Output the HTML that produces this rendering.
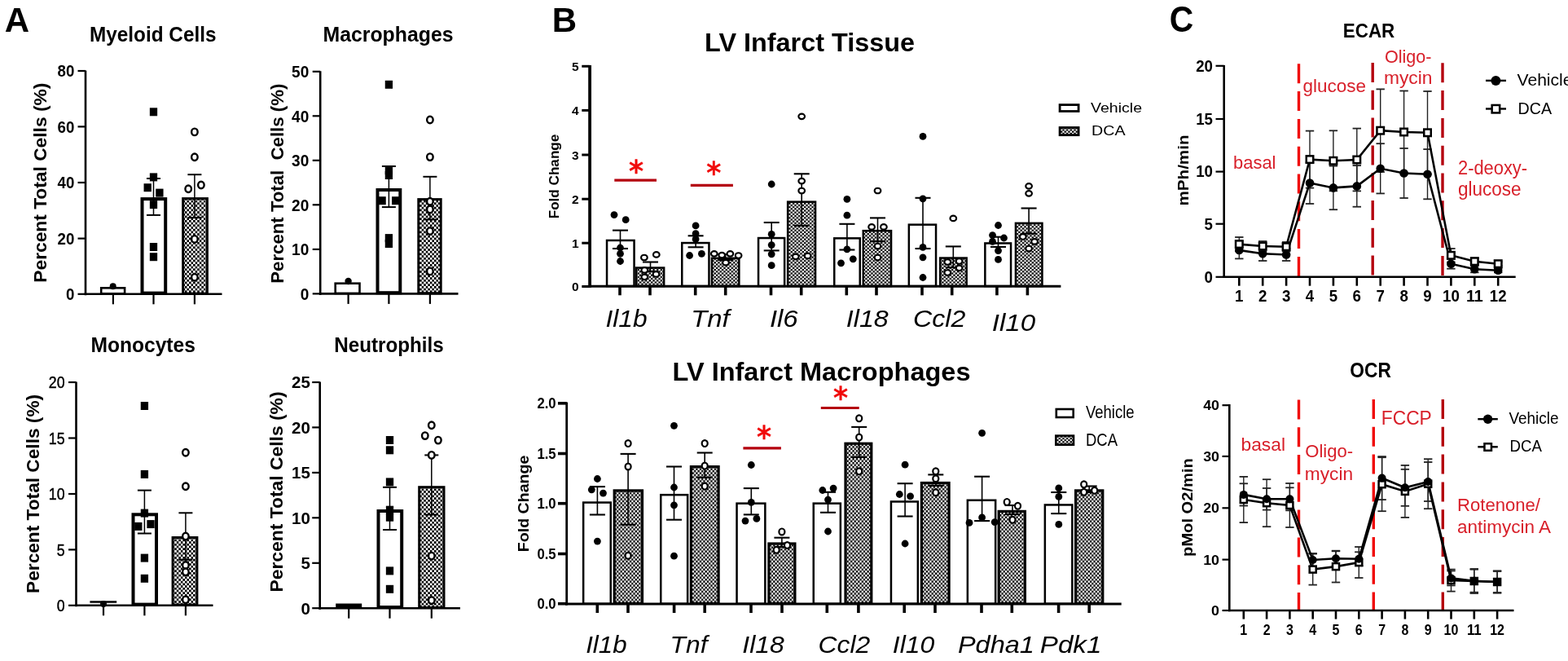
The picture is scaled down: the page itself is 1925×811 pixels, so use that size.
<!DOCTYPE html>
<html><head><meta charset="utf-8"><title>Figure</title>
<style>html,body{margin:0;padding:0;background:#fff;}svg{display:block;}
text{font-family:'Liberation Sans', Arial, sans-serif;}</style></head>
<body><svg width="1925" height="811" viewBox="0 0 1925 811">
<rect width="1925" height="811" fill="#fff"/>
<defs><pattern id="hatch" patternUnits="userSpaceOnUse" width="4.7" height="4.4"><rect width="4.7" height="4.4" fill="#000"/><rect x="0" y="0" width="2.35" height="2.2" fill="#fff"/><rect x="2.35" y="2.2" width="2.35" height="2.2" fill="#fff"/></pattern><pattern id="hatchC" patternUnits="userSpaceOnUse" width="4.52" height="4.93"><rect width="4.52" height="4.93" fill="#000"/><rect x="0" y="0" width="2.26" height="2.465" fill="#fff"/><rect x="2.26" y="2.465" width="2.26" height="2.465" fill="#fff"/></pattern><pattern id="hatchA" patternUnits="userSpaceOnUse" width="5.1" height="5.4"><rect width="5.1" height="5.4" fill="#000"/><rect x="0" y="0" width="2.55" height="2.7" fill="#fff"/><rect x="2.55" y="2.7" width="2.55" height="2.7" fill="#fff"/></pattern></defs>
<text x="5.8" y="38.8" font-size="42" font-weight="bold">A</text>
<text x="677.8" y="38.8" font-size="42" font-weight="bold">B</text>
<text x="1435.8" y="38.8" font-size="43.5" font-weight="bold" textLength="29.5" lengthAdjust="spacingAndGlyphs">C</text>
<rect x="124.2" y="353.3" width="28.9" height="7" fill="#fff" stroke="#000" stroke-width="2.6"/>
<rect x="174.5" y="244.1" width="28.7" height="115.5" fill="#fff" stroke="#000" stroke-width="4"/>
<rect x="224.7" y="243.6" width="29.7" height="116.5" fill="url(#hatchA)" stroke="#000" stroke-width="3"/>
<line x1="188.5" y1="219" x2="188.5" y2="263.9" stroke="#000" stroke-width="1.5"/>
<line x1="180" y1="219" x2="197" y2="219" stroke="#000" stroke-width="2"/>
<line x1="180" y1="263.9" x2="197" y2="263.9" stroke="#000" stroke-width="2"/>
<line x1="238.9" y1="214.2" x2="238.9" y2="267.1" stroke="#000" stroke-width="1.5"/>
<line x1="230.4" y1="214.2" x2="247.4" y2="214.2" stroke="#000" stroke-width="2"/>
<line x1="230.4" y1="267.1" x2="247.4" y2="267.1" stroke="#000" stroke-width="2"/>
<rect x="183.85" y="132.3" width="9.3" height="10"/>
<rect x="183.85" y="212.4" width="9.3" height="10"/>
<rect x="176.55" y="225.2" width="9.3" height="10"/>
<rect x="191.25" y="231.6" width="9.3" height="10"/>
<rect x="183.85" y="246.1" width="9.3" height="10"/>
<rect x="183.85" y="298" width="9.3" height="10"/>
<rect x="183.85" y="310.2" width="9.3" height="10"/>
<ellipse cx="238.9" cy="161.9" rx="3.75" ry="4.25" fill="#fff" stroke="#000" stroke-width="2.4"/>
<ellipse cx="238.9" cy="192.7" rx="3.75" ry="4.25" fill="#fff" stroke="#000" stroke-width="2.4"/>
<ellipse cx="231.2" cy="231.8" rx="3.75" ry="4.25" fill="#fff" stroke="#000" stroke-width="2.4"/>
<ellipse cx="246.9" cy="227" rx="3.75" ry="4.25" fill="#fff" stroke="#000" stroke-width="2.4"/>
<ellipse cx="238.9" cy="293.4" rx="3.75" ry="4.25" fill="#fff" stroke="#000" stroke-width="2.4"/>
<ellipse cx="238.9" cy="340.2" rx="3.75" ry="4.25" fill="#fff" stroke="#000" stroke-width="2.4"/>
<line x1="105" y1="86.5" x2="105" y2="362.3" stroke="#000" stroke-width="2.6"/>
<line x1="103.7" y1="360.8" x2="272.5" y2="360.8" stroke="#000" stroke-width="2.6"/>
<line x1="95.5" y1="360.8" x2="105" y2="360.8" stroke="#000" stroke-width="2.2"/>
<text x="91.3" y="368.18" font-size="20.5" font-weight="bold" text-anchor="end" textLength="10.4" lengthAdjust="spacingAndGlyphs">0</text>
<line x1="95.5" y1="292.6" x2="105" y2="292.6" stroke="#000" stroke-width="2.2"/>
<text x="91.3" y="299.98" font-size="20.5" font-weight="bold" text-anchor="end" textLength="20.8" lengthAdjust="spacingAndGlyphs">20</text>
<line x1="95.5" y1="224" x2="105" y2="224" stroke="#000" stroke-width="2.2"/>
<text x="91.3" y="231.38" font-size="20.5" font-weight="bold" text-anchor="end" textLength="20.8" lengthAdjust="spacingAndGlyphs">40</text>
<line x1="95.5" y1="155.4" x2="105" y2="155.4" stroke="#000" stroke-width="2.2"/>
<text x="91.3" y="162.78" font-size="20.5" font-weight="bold" text-anchor="end" textLength="20.8" lengthAdjust="spacingAndGlyphs">60</text>
<line x1="95.5" y1="87" x2="105" y2="87" stroke="#000" stroke-width="2.2"/>
<text x="91.3" y="94.38" font-size="20.5" font-weight="bold" text-anchor="end" textLength="20.8" lengthAdjust="spacingAndGlyphs">80</text>
<line x1="138.9" y1="360.8" x2="138.9" y2="373.3" stroke="#000" stroke-width="2.2"/>
<line x1="188.5" y1="360.8" x2="188.5" y2="373.3" stroke="#000" stroke-width="2.2"/>
<line x1="238.9" y1="360.8" x2="238.9" y2="373.3" stroke="#000" stroke-width="2.2"/>
<text x="110" y="51" font-size="25" font-weight="bold" textLength="155.5" lengthAdjust="spacingAndGlyphs">Myeloid Cells</text>
<text transform="translate(57.2 224.2) rotate(-90)" font-size="22" font-weight="bold" text-anchor="middle" textLength="245" lengthAdjust="spacingAndGlyphs" xml:space="preserve">Percent Total Cells (%)</text>
<circle cx="138.7" cy="351.3" r="4"/>
<rect x="411.7" y="347.7" width="29.8" height="12.2" fill="#fff" stroke="#000" stroke-width="2.6"/>
<rect x="463.5" y="233" width="27.8" height="126.2" fill="#fff" stroke="#000" stroke-width="4"/>
<rect x="513.8" y="244.6" width="27.4" height="115.1" fill="url(#hatchA)" stroke="#000" stroke-width="3"/>
<line x1="477.4" y1="204" x2="477.4" y2="254.1" stroke="#000" stroke-width="1.5"/>
<line x1="468.9" y1="204" x2="485.9" y2="204" stroke="#000" stroke-width="2"/>
<line x1="468.9" y1="254.1" x2="485.9" y2="254.1" stroke="#000" stroke-width="2"/>
<line x1="527.9" y1="216.8" x2="527.9" y2="269.4" stroke="#000" stroke-width="1.5"/>
<line x1="519.4" y1="216.8" x2="536.4" y2="216.8" stroke="#000" stroke-width="2"/>
<line x1="519.4" y1="269.4" x2="536.4" y2="269.4" stroke="#000" stroke-width="2"/>
<rect x="472.75" y="98.8" width="9.3" height="10"/>
<rect x="472.75" y="204.2" width="9.3" height="10"/>
<rect x="472.75" y="210" width="9.3" height="10"/>
<rect x="464.45" y="241.2" width="9.3" height="10"/>
<rect x="481.05" y="241.2" width="9.3" height="10"/>
<rect x="472.75" y="287.1" width="9.3" height="10"/>
<rect x="472.75" y="294" width="9.3" height="10"/>
<ellipse cx="527.9" cy="147" rx="3.75" ry="4.25" fill="#fff" stroke="#000" stroke-width="2.4"/>
<ellipse cx="527.9" cy="192.6" rx="3.75" ry="4.25" fill="#fff" stroke="#000" stroke-width="2.4"/>
<ellipse cx="527.9" cy="247.2" rx="3.75" ry="4.25" fill="#fff" stroke="#000" stroke-width="2.4"/>
<ellipse cx="527.9" cy="256.9" rx="3.75" ry="4.25" fill="#fff" stroke="#000" stroke-width="2.4"/>
<ellipse cx="527.9" cy="283.5" rx="3.75" ry="4.25" fill="#fff" stroke="#000" stroke-width="2.4"/>
<ellipse cx="527.9" cy="332.9" rx="3.75" ry="4.25" fill="#fff" stroke="#000" stroke-width="2.4"/>
<line x1="393.2" y1="87.3" x2="393.2" y2="361.9" stroke="#000" stroke-width="2.6"/>
<line x1="391.9" y1="360.4" x2="562.5" y2="360.4" stroke="#000" stroke-width="2.6"/>
<line x1="383.7" y1="360.4" x2="393.2" y2="360.4" stroke="#000" stroke-width="2.2"/>
<text x="379.3" y="367.78" font-size="20.5" font-weight="bold" text-anchor="end" textLength="10.6" lengthAdjust="spacingAndGlyphs">0</text>
<line x1="383.7" y1="305.9" x2="393.2" y2="305.9" stroke="#000" stroke-width="2.2"/>
<text x="379.3" y="313.28" font-size="20.5" font-weight="bold" text-anchor="end" textLength="21.2" lengthAdjust="spacingAndGlyphs">10</text>
<line x1="383.7" y1="251.3" x2="393.2" y2="251.3" stroke="#000" stroke-width="2.2"/>
<text x="379.3" y="258.68" font-size="20.5" font-weight="bold" text-anchor="end" textLength="21.2" lengthAdjust="spacingAndGlyphs">20</text>
<line x1="383.7" y1="196.8" x2="393.2" y2="196.8" stroke="#000" stroke-width="2.2"/>
<text x="379.3" y="204.18" font-size="20.5" font-weight="bold" text-anchor="end" textLength="21.2" lengthAdjust="spacingAndGlyphs">30</text>
<line x1="383.7" y1="142.3" x2="393.2" y2="142.3" stroke="#000" stroke-width="2.2"/>
<text x="379.3" y="149.68" font-size="20.5" font-weight="bold" text-anchor="end" textLength="21.2" lengthAdjust="spacingAndGlyphs">40</text>
<line x1="383.7" y1="87.8" x2="393.2" y2="87.8" stroke="#000" stroke-width="2.2"/>
<text x="379.3" y="95.18" font-size="20.5" font-weight="bold" text-anchor="end" textLength="21.2" lengthAdjust="spacingAndGlyphs">50</text>
<line x1="427.6" y1="360.4" x2="427.6" y2="372.9" stroke="#000" stroke-width="2.2"/>
<line x1="477.4" y1="360.4" x2="477.4" y2="372.9" stroke="#000" stroke-width="2.2"/>
<line x1="527.9" y1="360.4" x2="527.9" y2="372.9" stroke="#000" stroke-width="2.2"/>
<text x="396.5" y="51" font-size="25" font-weight="bold" textLength="160" lengthAdjust="spacingAndGlyphs">Macrophages</text>
<text transform="translate(348 225.2) rotate(-90)" font-size="22" font-weight="bold" text-anchor="middle" textLength="245" lengthAdjust="spacingAndGlyphs" xml:space="preserve">Percent Total  Cells (%)</text>
<circle cx="427.6" cy="345" r="4.2"/>
<rect x="163.5" y="631.3" width="28.5" height="110.3" fill="#fff" stroke="#000" stroke-width="4"/>
<rect x="212.1" y="659.5" width="29.8" height="82.6" fill="url(#hatchA)" stroke="#000" stroke-width="3"/>
<line x1="177.4" y1="601.6" x2="177.4" y2="654.5" stroke="#000" stroke-width="1.5"/>
<line x1="168.9" y1="601.6" x2="185.9" y2="601.6" stroke="#000" stroke-width="2"/>
<line x1="168.9" y1="654.5" x2="185.9" y2="654.5" stroke="#000" stroke-width="2"/>
<line x1="227.9" y1="629.3" x2="227.9" y2="686.7" stroke="#000" stroke-width="1.5"/>
<line x1="219.4" y1="629.3" x2="236.4" y2="629.3" stroke="#000" stroke-width="2"/>
<line x1="219.4" y1="686.7" x2="236.4" y2="686.7" stroke="#000" stroke-width="2"/>
<rect x="172.75" y="493" width="9.3" height="10"/>
<rect x="172.75" y="576.9" width="9.3" height="10"/>
<rect x="172.75" y="624.6" width="9.3" height="10"/>
<rect x="165.15" y="640.9" width="9.3" height="10"/>
<rect x="180.35" y="638.1" width="9.3" height="10"/>
<rect x="172.75" y="679.6" width="9.3" height="10"/>
<rect x="172.75" y="704.8" width="9.3" height="10"/>
<ellipse cx="227.9" cy="555.3" rx="3.75" ry="4.25" fill="#fff" stroke="#000" stroke-width="2.4"/>
<ellipse cx="227.9" cy="596.8" rx="3.75" ry="4.25" fill="#fff" stroke="#000" stroke-width="2.4"/>
<ellipse cx="227.9" cy="658" rx="3.75" ry="4.25" fill="#fff" stroke="#000" stroke-width="2.4"/>
<ellipse cx="227.9" cy="693.5" rx="3.75" ry="4.25" fill="#fff" stroke="#000" stroke-width="2.4"/>
<ellipse cx="227.9" cy="701.8" rx="3.75" ry="4.25" fill="#fff" stroke="#000" stroke-width="2.4"/>
<ellipse cx="227.9" cy="735.7" rx="3.75" ry="4.25" fill="#fff" stroke="#000" stroke-width="2.4"/>
<line x1="93.5" y1="468.5" x2="93.5" y2="744.3" stroke="#000" stroke-width="2.6"/>
<line x1="92.2" y1="742.8" x2="261.5" y2="742.8" stroke="#000" stroke-width="2.6"/>
<line x1="84" y1="742.8" x2="93.5" y2="742.8" stroke="#000" stroke-width="2.2"/>
<text x="79.5" y="750" font-size="20" text-anchor="end" textLength="9.85" lengthAdjust="spacingAndGlyphs" stroke="#000" stroke-width="0.45">0</text>
<line x1="84" y1="674.4" x2="93.5" y2="674.4" stroke="#000" stroke-width="2.2"/>
<text x="79.5" y="681.6" font-size="20" text-anchor="end" textLength="9.85" lengthAdjust="spacingAndGlyphs" stroke="#000" stroke-width="0.45">5</text>
<line x1="84" y1="606" x2="93.5" y2="606" stroke="#000" stroke-width="2.2"/>
<text x="79.5" y="613.2" font-size="20" text-anchor="end" textLength="19.7" lengthAdjust="spacingAndGlyphs" stroke="#000" stroke-width="0.45">10</text>
<line x1="84" y1="537.5" x2="93.5" y2="537.5" stroke="#000" stroke-width="2.2"/>
<text x="79.5" y="544.7" font-size="20" text-anchor="end" textLength="19.7" lengthAdjust="spacingAndGlyphs" stroke="#000" stroke-width="0.45">15</text>
<line x1="84" y1="469" x2="93.5" y2="469" stroke="#000" stroke-width="2.2"/>
<text x="79.5" y="476.2" font-size="20" text-anchor="end" textLength="19.7" lengthAdjust="spacingAndGlyphs" stroke="#000" stroke-width="0.45">20</text>
<line x1="127" y1="742.8" x2="127" y2="755.3" stroke="#000" stroke-width="2.2"/>
<line x1="177.4" y1="742.8" x2="177.4" y2="755.3" stroke="#000" stroke-width="2.2"/>
<line x1="227.9" y1="742.8" x2="227.9" y2="755.3" stroke="#000" stroke-width="2.2"/>
<text x="111.4" y="432.3" font-size="25" font-weight="bold" textLength="128.5" lengthAdjust="spacingAndGlyphs">Monocytes</text>
<text transform="translate(48.3 605.9) rotate(-90)" font-size="22" font-weight="bold" text-anchor="middle" textLength="244" lengthAdjust="spacingAndGlyphs" xml:space="preserve">Percent Total Cells (%)</text>
<line x1="110.4" y1="738.5" x2="143.2" y2="738.5" stroke="#000" stroke-width="2.5"/>
<circle cx="127" cy="740.9" r="4"/>
<rect x="464.5" y="627" width="28.7" height="118" fill="#fff" stroke="#000" stroke-width="4"/>
<rect x="514.7" y="597.7" width="30.3" height="147.8" fill="url(#hatchA)" stroke="#000" stroke-width="3"/>
<line x1="478.5" y1="597.8" x2="478.5" y2="650" stroke="#000" stroke-width="1.5"/>
<line x1="470" y1="597.8" x2="487" y2="597.8" stroke="#000" stroke-width="2"/>
<line x1="470" y1="650" x2="487" y2="650" stroke="#000" stroke-width="2"/>
<line x1="529.8" y1="558.4" x2="529.8" y2="631.5" stroke="#000" stroke-width="1.5"/>
<line x1="521.3" y1="558.4" x2="538.3" y2="558.4" stroke="#000" stroke-width="2"/>
<line x1="521.3" y1="631.5" x2="538.3" y2="631.5" stroke="#000" stroke-width="2"/>
<rect x="473.85" y="535" width="9.3" height="10"/>
<rect x="473.85" y="547.3" width="9.3" height="10"/>
<rect x="473.85" y="586.4" width="9.3" height="10"/>
<rect x="473.85" y="620.7" width="9.3" height="10"/>
<rect x="473.85" y="629.7" width="9.3" height="10"/>
<rect x="473.85" y="695.4" width="9.3" height="10"/>
<rect x="473.85" y="717.8" width="9.3" height="10"/>
<ellipse cx="529.8" cy="521.8" rx="3.75" ry="4.25" fill="#fff" stroke="#000" stroke-width="2.4"/>
<ellipse cx="521.8" cy="534.6" rx="3.75" ry="4.25" fill="#fff" stroke="#000" stroke-width="2.4"/>
<ellipse cx="537.9" cy="540.1" rx="3.75" ry="4.25" fill="#fff" stroke="#000" stroke-width="2.4"/>
<ellipse cx="529.8" cy="558.4" rx="3.75" ry="4.25" fill="#fff" stroke="#000" stroke-width="2.4"/>
<ellipse cx="529.8" cy="682.1" rx="3.75" ry="4.25" fill="#fff" stroke="#000" stroke-width="2.4"/>
<ellipse cx="529.8" cy="736.6" rx="3.75" ry="4.25" fill="#fff" stroke="#000" stroke-width="2.4"/>
<line x1="392.7" y1="468.5" x2="392.7" y2="747.7" stroke="#000" stroke-width="2.6"/>
<line x1="391.4" y1="746.2" x2="565" y2="746.2" stroke="#000" stroke-width="2.6"/>
<line x1="383.2" y1="746.2" x2="392.7" y2="746.2" stroke="#000" stroke-width="2.2"/>
<text x="380.9" y="753.58" font-size="20.5" font-weight="bold" text-anchor="end">0</text>
<line x1="383.2" y1="690.8" x2="392.7" y2="690.8" stroke="#000" stroke-width="2.2"/>
<text x="380.9" y="698.18" font-size="20.5" font-weight="bold" text-anchor="end">5</text>
<line x1="383.2" y1="635.3" x2="392.7" y2="635.3" stroke="#000" stroke-width="2.2"/>
<text x="380.9" y="642.68" font-size="20.5" font-weight="bold" text-anchor="end">10</text>
<line x1="383.2" y1="579.9" x2="392.7" y2="579.9" stroke="#000" stroke-width="2.2"/>
<text x="380.9" y="587.28" font-size="20.5" font-weight="bold" text-anchor="end">15</text>
<line x1="383.2" y1="524.4" x2="392.7" y2="524.4" stroke="#000" stroke-width="2.2"/>
<text x="380.9" y="531.78" font-size="20.5" font-weight="bold" text-anchor="end">20</text>
<line x1="383.2" y1="469" x2="392.7" y2="469" stroke="#000" stroke-width="2.2"/>
<text x="380.9" y="476.38" font-size="20.5" font-weight="bold" text-anchor="end">25</text>
<line x1="428.2" y1="746.2" x2="428.2" y2="758.7" stroke="#000" stroke-width="2.2"/>
<line x1="478.5" y1="746.2" x2="478.5" y2="758.7" stroke="#000" stroke-width="2.2"/>
<line x1="529.8" y1="746.2" x2="529.8" y2="758.7" stroke="#000" stroke-width="2.2"/>
<text x="410.3" y="432.3" font-size="25" font-weight="bold" textLength="134.5" lengthAdjust="spacingAndGlyphs">Neutrophils</text>
<text transform="translate(346.5 603.5) rotate(-90)" font-size="22" font-weight="bold" text-anchor="middle" textLength="246" lengthAdjust="spacingAndGlyphs" xml:space="preserve">Percent Total Cells (%)</text>
<rect x="412.2" y="740.5" width="32" height="5.5" fill="#000"/>
<rect x="745.05" y="294.95" width="33.5" height="56.1" fill="#fff" stroke="#000" stroke-width="2.5"/>
<rect x="781.05" y="328.55" width="34.1" height="22.5" fill="url(#hatch)" stroke="#000" stroke-width="2.5"/>
<rect x="837.25" y="298.05" width="33.2" height="53" fill="#fff" stroke="#000" stroke-width="2.5"/>
<rect x="873.95" y="316.75" width="33.4" height="34.3" fill="url(#hatch)" stroke="#000" stroke-width="2.5"/>
<rect x="931.05" y="292.05" width="32.1" height="59" fill="#fff" stroke="#000" stroke-width="2.5"/>
<rect x="967.15" y="247.65" width="33.9" height="103.4" fill="url(#hatch)" stroke="#000" stroke-width="2.5"/>
<rect x="1024.25" y="292.35" width="31.5" height="58.7" fill="#fff" stroke="#000" stroke-width="2.5"/>
<rect x="1059.75" y="283.15" width="34.3" height="67.9" fill="url(#hatch)" stroke="#000" stroke-width="2.5"/>
<rect x="1115.85" y="275.65" width="33.2" height="75.4" fill="#fff" stroke="#000" stroke-width="2.5"/>
<rect x="1154.25" y="316.55" width="32.4" height="34.5" fill="url(#hatch)" stroke="#000" stroke-width="2.5"/>
<rect x="1209.35" y="298.45" width="31.7" height="52.6" fill="#fff" stroke="#000" stroke-width="2.5"/>
<rect x="1246.95" y="273.85" width="32.5" height="77.2" fill="url(#hatch)" stroke="#000" stroke-width="2.5"/>
<line x1="761.5" y1="282.6" x2="761.5" y2="305" stroke="#000" stroke-width="1.6"/>
<line x1="752" y1="282.6" x2="771" y2="282.6" stroke="#000" stroke-width="2.1"/>
<line x1="752" y1="305" x2="771" y2="305" stroke="#000" stroke-width="2.1"/>
<line x1="798.5" y1="321.5" x2="798.5" y2="333" stroke="#000" stroke-width="1.6"/>
<line x1="789" y1="321.5" x2="808" y2="321.5" stroke="#000" stroke-width="2.1"/>
<line x1="789" y1="333" x2="808" y2="333" stroke="#000" stroke-width="2.1"/>
<line x1="854.1" y1="289.3" x2="854.1" y2="303.3" stroke="#000" stroke-width="1.6"/>
<line x1="844.6" y1="289.3" x2="863.6" y2="289.3" stroke="#000" stroke-width="2.1"/>
<line x1="844.6" y1="303.3" x2="863.6" y2="303.3" stroke="#000" stroke-width="2.1"/>
<line x1="890.7" y1="312" x2="890.7" y2="319" stroke="#000" stroke-width="1.6"/>
<line x1="881.2" y1="312" x2="900.2" y2="312" stroke="#000" stroke-width="2.1"/>
<line x1="881.2" y1="319" x2="900.2" y2="319" stroke="#000" stroke-width="2.1"/>
<line x1="947.2" y1="273" x2="947.2" y2="307.4" stroke="#000" stroke-width="1.6"/>
<line x1="937.7" y1="273" x2="956.7" y2="273" stroke="#000" stroke-width="2.1"/>
<line x1="937.7" y1="307.4" x2="956.7" y2="307.4" stroke="#000" stroke-width="2.1"/>
<line x1="984.2" y1="213.3" x2="984.2" y2="276.9" stroke="#000" stroke-width="1.6"/>
<line x1="974.7" y1="213.3" x2="993.7" y2="213.3" stroke="#000" stroke-width="2.1"/>
<line x1="974.7" y1="276.9" x2="993.7" y2="276.9" stroke="#000" stroke-width="2.1"/>
<line x1="1039.9" y1="274.8" x2="1039.9" y2="306.5" stroke="#000" stroke-width="1.6"/>
<line x1="1030.4" y1="274.8" x2="1049.4" y2="274.8" stroke="#000" stroke-width="2.1"/>
<line x1="1030.4" y1="306.5" x2="1049.4" y2="306.5" stroke="#000" stroke-width="2.1"/>
<line x1="1077.5" y1="267.4" x2="1077.5" y2="296.1" stroke="#000" stroke-width="1.6"/>
<line x1="1068" y1="267.4" x2="1087" y2="267.4" stroke="#000" stroke-width="2.1"/>
<line x1="1068" y1="296.1" x2="1087" y2="296.1" stroke="#000" stroke-width="2.1"/>
<line x1="1133" y1="242.8" x2="1133" y2="305" stroke="#000" stroke-width="1.6"/>
<line x1="1123.5" y1="242.8" x2="1142.5" y2="242.8" stroke="#000" stroke-width="2.1"/>
<line x1="1123.5" y1="305" x2="1142.5" y2="305" stroke="#000" stroke-width="2.1"/>
<line x1="1170.3" y1="302.4" x2="1170.3" y2="328.2" stroke="#000" stroke-width="1.6"/>
<line x1="1160.8" y1="302.4" x2="1179.8" y2="302.4" stroke="#000" stroke-width="2.1"/>
<line x1="1160.8" y1="328.2" x2="1179.8" y2="328.2" stroke="#000" stroke-width="2.1"/>
<line x1="1225.5" y1="290.7" x2="1225.5" y2="302.9" stroke="#000" stroke-width="1.6"/>
<line x1="1216" y1="290.7" x2="1235" y2="290.7" stroke="#000" stroke-width="2.1"/>
<line x1="1216" y1="302.9" x2="1235" y2="302.9" stroke="#000" stroke-width="2.1"/>
<line x1="1263.1" y1="255.5" x2="1263.1" y2="286.6" stroke="#000" stroke-width="1.6"/>
<line x1="1253.6" y1="255.5" x2="1272.6" y2="255.5" stroke="#000" stroke-width="2.1"/>
<line x1="1253.6" y1="286.6" x2="1272.6" y2="286.6" stroke="#000" stroke-width="2.1"/>
<circle cx="754" cy="263.6" r="4.4"/>
<circle cx="768.2" cy="269.7" r="4.4"/>
<circle cx="761.5" cy="304" r="4.4"/>
<circle cx="761.5" cy="311.3" r="4.4"/>
<circle cx="761.5" cy="320.5" r="4.4"/>
<circle cx="854.1" cy="276.9" r="4.4"/>
<circle cx="854.1" cy="286.6" r="4.4"/>
<circle cx="854.1" cy="293.4" r="4.4"/>
<circle cx="846.6" cy="313.5" r="4.4"/>
<circle cx="861.4" cy="311.3" r="4.4"/>
<circle cx="947.2" cy="226" r="4.4"/>
<circle cx="947.2" cy="287.3" r="4.4"/>
<circle cx="947.2" cy="300.6" r="4.4"/>
<circle cx="947.2" cy="311.8" r="4.4"/>
<circle cx="947.2" cy="325.7" r="4.4"/>
<circle cx="1039.9" cy="244.3" r="4.4"/>
<circle cx="1039.9" cy="264.2" r="4.4"/>
<circle cx="1039.9" cy="305.9" r="4.4"/>
<circle cx="1032.5" cy="322.8" r="4.4"/>
<circle cx="1047.3" cy="317.8" r="4.4"/>
<circle cx="1133" cy="167.4" r="4.4"/>
<circle cx="1133" cy="243.8" r="4.4"/>
<circle cx="1133" cy="303.4" r="4.4"/>
<circle cx="1133" cy="315.8" r="4.4"/>
<circle cx="1133" cy="340.5" r="4.4"/>
<circle cx="1225.5" cy="276.5" r="4.4"/>
<circle cx="1218.5" cy="288.6" r="4.4"/>
<circle cx="1232.5" cy="292" r="4.4"/>
<circle cx="1218.5" cy="296.4" r="4.4"/>
<circle cx="1225.5" cy="307.6" r="4.4"/>
<circle cx="1225.5" cy="318.4" r="4.4"/>
<ellipse cx="790.9" cy="316" rx="3.8" ry="3.25" fill="#fff" stroke="#000" stroke-width="2.2"/>
<ellipse cx="805.8" cy="312.4" rx="3.8" ry="3.25" fill="#fff" stroke="#000" stroke-width="2.2"/>
<ellipse cx="791.3" cy="331.4" rx="3.8" ry="3.25" fill="#fff" stroke="#000" stroke-width="2.2"/>
<ellipse cx="805.5" cy="336.4" rx="3.8" ry="3.25" fill="#fff" stroke="#000" stroke-width="2.2"/>
<ellipse cx="791.3" cy="339.8" rx="3.8" ry="3.25" fill="#fff" stroke="#000" stroke-width="2.2"/>
<ellipse cx="876.8" cy="311.3" rx="3.8" ry="3.25" fill="#fff" stroke="#000" stroke-width="2.2"/>
<ellipse cx="886.2" cy="313.1" rx="3.8" ry="3.25" fill="#fff" stroke="#000" stroke-width="2.2"/>
<ellipse cx="896.4" cy="311.3" rx="3.8" ry="3.25" fill="#fff" stroke="#000" stroke-width="2.2"/>
<ellipse cx="906.6" cy="313.5" rx="3.8" ry="3.25" fill="#fff" stroke="#000" stroke-width="2.2"/>
<ellipse cx="891" cy="322.2" rx="3.8" ry="3.25" fill="#fff" stroke="#000" stroke-width="2.2"/>
<ellipse cx="984.2" cy="142.8" rx="3.8" ry="3.25" fill="#fff" stroke="#000" stroke-width="2.2"/>
<ellipse cx="984.2" cy="222.1" rx="3.8" ry="3.25" fill="#fff" stroke="#000" stroke-width="2.2"/>
<ellipse cx="984.2" cy="234" rx="3.8" ry="3.25" fill="#fff" stroke="#000" stroke-width="2.2"/>
<ellipse cx="976.8" cy="314.8" rx="3.8" ry="3.25" fill="#fff" stroke="#000" stroke-width="2.2"/>
<ellipse cx="991.6" cy="313.9" rx="3.8" ry="3.25" fill="#fff" stroke="#000" stroke-width="2.2"/>
<ellipse cx="1077.5" cy="234" rx="3.8" ry="3.25" fill="#fff" stroke="#000" stroke-width="2.2"/>
<ellipse cx="1070.1" cy="278.4" rx="3.8" ry="3.25" fill="#fff" stroke="#000" stroke-width="2.2"/>
<ellipse cx="1084.9" cy="278.4" rx="3.8" ry="3.25" fill="#fff" stroke="#000" stroke-width="2.2"/>
<ellipse cx="1077.5" cy="302" rx="3.8" ry="3.25" fill="#fff" stroke="#000" stroke-width="2.2"/>
<ellipse cx="1077.5" cy="316" rx="3.8" ry="3.25" fill="#fff" stroke="#000" stroke-width="2.2"/>
<ellipse cx="1170.3" cy="267.9" rx="3.8" ry="3.25" fill="#fff" stroke="#000" stroke-width="2.2"/>
<ellipse cx="1163.3" cy="321.5" rx="3.8" ry="3.25" fill="#fff" stroke="#000" stroke-width="2.2"/>
<ellipse cx="1177.6" cy="320.5" rx="3.8" ry="3.25" fill="#fff" stroke="#000" stroke-width="2.2"/>
<ellipse cx="1177.6" cy="328.8" rx="3.8" ry="3.25" fill="#fff" stroke="#000" stroke-width="2.2"/>
<ellipse cx="1163.3" cy="334.5" rx="3.8" ry="3.25" fill="#fff" stroke="#000" stroke-width="2.2"/>
<ellipse cx="1263.1" cy="228.3" rx="3.8" ry="3.25" fill="#fff" stroke="#000" stroke-width="2.2"/>
<ellipse cx="1263.1" cy="237.3" rx="3.8" ry="3.25" fill="#fff" stroke="#000" stroke-width="2.2"/>
<ellipse cx="1255.8" cy="290.5" rx="3.8" ry="3.25" fill="#fff" stroke="#000" stroke-width="2.2"/>
<ellipse cx="1270.1" cy="296.4" rx="3.8" ry="3.25" fill="#fff" stroke="#000" stroke-width="2.2"/>
<ellipse cx="1263.1" cy="305" rx="3.8" ry="3.25" fill="#fff" stroke="#000" stroke-width="2.2"/>
<line x1="724.1" y1="80" x2="724.1" y2="352.8" stroke="#000" stroke-width="3.8"/>
<line x1="722.6" y1="351.3" x2="1302.4" y2="351.3" stroke="#000" stroke-width="3"/>
<line x1="714.3" y1="351.5" x2="724.1" y2="351.5" stroke="#000" stroke-width="3"/>
<text x="710.6" y="357" font-size="15.5" font-weight="bold" text-anchor="end">0</text>
<line x1="714.3" y1="298.2" x2="724.1" y2="298.2" stroke="#000" stroke-width="3"/>
<text x="710.6" y="303.7" font-size="15.5" font-weight="bold" text-anchor="end">1</text>
<line x1="714.3" y1="244.2" x2="724.1" y2="244.2" stroke="#000" stroke-width="3"/>
<text x="710.6" y="249.7" font-size="15.5" font-weight="bold" text-anchor="end">2</text>
<line x1="714.3" y1="190" x2="724.1" y2="190" stroke="#000" stroke-width="3"/>
<text x="710.6" y="195.5" font-size="15.5" font-weight="bold" text-anchor="end">3</text>
<line x1="714.3" y1="135.4" x2="724.1" y2="135.4" stroke="#000" stroke-width="3"/>
<text x="710.6" y="140.9" font-size="15.5" font-weight="bold" text-anchor="end">4</text>
<line x1="714.3" y1="81.3" x2="724.1" y2="81.3" stroke="#000" stroke-width="3"/>
<text x="710.6" y="86.8" font-size="15.5" font-weight="bold" text-anchor="end">5</text>
<line x1="761" y1="351.3" x2="761" y2="362.3" stroke="#000" stroke-width="3.6"/>
<line x1="798" y1="351.3" x2="798" y2="362.3" stroke="#000" stroke-width="3.6"/>
<line x1="853.7" y1="351.3" x2="853.7" y2="362.3" stroke="#000" stroke-width="3.6"/>
<line x1="890.7" y1="351.3" x2="890.7" y2="362.3" stroke="#000" stroke-width="3.6"/>
<line x1="946.5" y1="351.3" x2="946.5" y2="362.3" stroke="#000" stroke-width="3.6"/>
<line x1="983.7" y1="351.3" x2="983.7" y2="362.3" stroke="#000" stroke-width="3.6"/>
<line x1="1039.3" y1="351.3" x2="1039.3" y2="362.3" stroke="#000" stroke-width="3.6"/>
<line x1="1076" y1="351.3" x2="1076" y2="362.3" stroke="#000" stroke-width="3.6"/>
<line x1="1132" y1="351.3" x2="1132" y2="362.3" stroke="#000" stroke-width="3.6"/>
<line x1="1168.7" y1="351.3" x2="1168.7" y2="362.3" stroke="#000" stroke-width="3.6"/>
<line x1="1223.9" y1="351.3" x2="1223.9" y2="362.3" stroke="#000" stroke-width="3.6"/>
<line x1="1261.4" y1="351.3" x2="1261.4" y2="362.3" stroke="#000" stroke-width="3.6"/>
<line x1="754.3" y1="221.2" x2="806" y2="221.2" stroke="#b4000e" stroke-width="3.2"/>
<line x1="847.8" y1="227.3" x2="899.9" y2="227.3" stroke="#b4000e" stroke-width="3.2"/>
<text x="780.9" y="212.54" font-size="28" text-anchor="middle" fill="#f00a0a" stroke="#f00a0a" stroke-width="0.6" stroke-linejoin="round" style="font-family:'DejaVu Sans', sans-serif">&#x2217;</text>
<text x="876.2" y="215.34" font-size="28" text-anchor="middle" fill="#f00a0a" stroke="#f00a0a" stroke-width="0.6" stroke-linejoin="round" style="font-family:'DejaVu Sans', sans-serif">&#x2217;</text>
<text x="743.5" y="401.4" font-size="29.5" font-style="italic" textLength="51.1" lengthAdjust="spacingAndGlyphs">Il1b</text>
<text x="848.2" y="401.4" font-size="29.5" font-style="italic" textLength="47.5" lengthAdjust="spacingAndGlyphs">Tnf</text>
<text x="944.9" y="401.4" font-size="29.5" font-style="italic" textLength="34.7" lengthAdjust="spacingAndGlyphs">Il6</text>
<text x="1038.8" y="401.4" font-size="29.5" font-style="italic" textLength="51.9" lengthAdjust="spacingAndGlyphs">Il18</text>
<text x="1121.1" y="401.4" font-size="29.5" font-style="italic" textLength="64.2" lengthAdjust="spacingAndGlyphs">Ccl2</text>
<text x="1217.7" y="406.4" font-size="29.5" font-style="italic" textLength="53.4" lengthAdjust="spacingAndGlyphs">Il10</text>
<text transform="translate(685.6 216.5) rotate(-90)" font-size="16" font-weight="bold" text-anchor="middle" textLength="103.6" lengthAdjust="spacingAndGlyphs">Fold Change</text>
<text x="865" y="62.7" font-size="31" font-weight="bold" textLength="258" lengthAdjust="spacingAndGlyphs">LV Infarct Tissue</text>
<rect x="1301.1" y="128.6" width="23" height="7.9" fill="#fff" stroke="#000" stroke-width="2.8"/>
<rect x="1301.1" y="156.5" width="23" height="9.2" fill="url(#hatch)" stroke="#000" stroke-width="2.8"/>
<text x="1339" y="137.7" font-size="17" textLength="63" lengthAdjust="spacingAndGlyphs">Vehicle</text>
<text x="1340" y="166" font-size="17" textLength="41.5" lengthAdjust="spacingAndGlyphs">DCA</text>
<rect x="716.15" y="616.55" width="33.6" height="124.2" fill="#fff" stroke="#000" stroke-width="2.5"/>
<rect x="754.2" y="601.9" width="34.3" height="138.5" fill="url(#hatchC)" stroke="#000" stroke-width="3.2"/>
<rect x="811.25" y="607.15" width="32.9" height="133.6" fill="#fff" stroke="#000" stroke-width="2.5"/>
<rect x="848.4" y="572.6" width="33.7" height="167.8" fill="url(#hatchC)" stroke="#000" stroke-width="3.2"/>
<rect x="904.55" y="617.65" width="34.8" height="123.1" fill="#fff" stroke="#000" stroke-width="2.5"/>
<rect x="943.9" y="667" width="32" height="73.4" fill="url(#hatchC)" stroke="#000" stroke-width="3.2"/>
<rect x="998.75" y="617.65" width="33.1" height="123.1" fill="#fff" stroke="#000" stroke-width="2.5"/>
<rect x="1038" y="544.2" width="31.8" height="196.2" fill="url(#hatchC)" stroke="#000" stroke-width="3.2"/>
<rect x="1093.95" y="615.45" width="32.9" height="125.3" fill="#fff" stroke="#000" stroke-width="2.5"/>
<rect x="1131.4" y="592.5" width="33.7" height="147.9" fill="url(#hatchC)" stroke="#000" stroke-width="3.2"/>
<rect x="1187.85" y="613.75" width="34.3" height="127" fill="#fff" stroke="#000" stroke-width="2.5"/>
<rect x="1226.2" y="627.4" width="32.2" height="113" fill="url(#hatchC)" stroke="#000" stroke-width="3.2"/>
<rect x="1282.85" y="619.45" width="33.5" height="121.3" fill="#fff" stroke="#000" stroke-width="2.5"/>
<rect x="1320.6" y="601.9" width="33.2" height="138.5" fill="url(#hatchC)" stroke="#000" stroke-width="3.2"/>
<line x1="733.4" y1="597.1" x2="733.4" y2="631.5" stroke="#000" stroke-width="1.6"/>
<line x1="723.9" y1="597.1" x2="742.9" y2="597.1" stroke="#000" stroke-width="2.1"/>
<line x1="723.9" y1="631.5" x2="742.9" y2="631.5" stroke="#000" stroke-width="2.1"/>
<line x1="771.1" y1="556.9" x2="771.1" y2="643.7" stroke="#000" stroke-width="1.6"/>
<line x1="761.6" y1="556.9" x2="780.6" y2="556.9" stroke="#000" stroke-width="2.1"/>
<line x1="761.6" y1="643.7" x2="780.6" y2="643.7" stroke="#000" stroke-width="2.1"/>
<line x1="827.5" y1="572.5" x2="827.5" y2="637.7" stroke="#000" stroke-width="1.6"/>
<line x1="818" y1="572.5" x2="837" y2="572.5" stroke="#000" stroke-width="2.1"/>
<line x1="818" y1="637.7" x2="837" y2="637.7" stroke="#000" stroke-width="2.1"/>
<line x1="865.2" y1="555.5" x2="865.2" y2="585.8" stroke="#000" stroke-width="1.6"/>
<line x1="855.7" y1="555.5" x2="874.7" y2="555.5" stroke="#000" stroke-width="2.1"/>
<line x1="855.7" y1="585.8" x2="874.7" y2="585.8" stroke="#000" stroke-width="2.1"/>
<line x1="922.3" y1="599.1" x2="922.3" y2="631.4" stroke="#000" stroke-width="1.6"/>
<line x1="912.8" y1="599.1" x2="931.8" y2="599.1" stroke="#000" stroke-width="2.1"/>
<line x1="912.8" y1="631.4" x2="931.8" y2="631.4" stroke="#000" stroke-width="2.1"/>
<line x1="959.9" y1="659.7" x2="959.9" y2="671" stroke="#000" stroke-width="1.6"/>
<line x1="950.4" y1="659.7" x2="969.4" y2="659.7" stroke="#000" stroke-width="2.1"/>
<line x1="950.4" y1="671" x2="969.4" y2="671" stroke="#000" stroke-width="2.1"/>
<line x1="1016.5" y1="603.8" x2="1016.5" y2="628.8" stroke="#000" stroke-width="1.6"/>
<line x1="1007" y1="603.8" x2="1026" y2="603.8" stroke="#000" stroke-width="2.1"/>
<line x1="1007" y1="628.8" x2="1026" y2="628.8" stroke="#000" stroke-width="2.1"/>
<line x1="1054.7" y1="523.9" x2="1054.7" y2="560.9" stroke="#000" stroke-width="1.6"/>
<line x1="1045.2" y1="523.9" x2="1064.2" y2="523.9" stroke="#000" stroke-width="2.1"/>
<line x1="1045.2" y1="560.9" x2="1064.2" y2="560.9" stroke="#000" stroke-width="2.1"/>
<line x1="1111.1" y1="593.2" x2="1111.1" y2="633.5" stroke="#000" stroke-width="1.6"/>
<line x1="1101.6" y1="593.2" x2="1120.6" y2="593.2" stroke="#000" stroke-width="2.1"/>
<line x1="1101.6" y1="633.5" x2="1120.6" y2="633.5" stroke="#000" stroke-width="2.1"/>
<line x1="1148.8" y1="582.4" x2="1148.8" y2="596" stroke="#000" stroke-width="1.6"/>
<line x1="1139.3" y1="582.4" x2="1158.3" y2="582.4" stroke="#000" stroke-width="2.1"/>
<line x1="1139.3" y1="596" x2="1158.3" y2="596" stroke="#000" stroke-width="2.1"/>
<line x1="1205.6" y1="584.7" x2="1205.6" y2="639.1" stroke="#000" stroke-width="1.6"/>
<line x1="1196.1" y1="584.7" x2="1215.1" y2="584.7" stroke="#000" stroke-width="2.1"/>
<line x1="1196.1" y1="639.1" x2="1215.1" y2="639.1" stroke="#000" stroke-width="2.1"/>
<line x1="1243" y1="620" x2="1243" y2="631" stroke="#000" stroke-width="1.6"/>
<line x1="1233.5" y1="620" x2="1252.5" y2="620" stroke="#000" stroke-width="2.1"/>
<line x1="1233.5" y1="631" x2="1252.5" y2="631" stroke="#000" stroke-width="2.1"/>
<line x1="1299.8" y1="604" x2="1299.8" y2="630.1" stroke="#000" stroke-width="1.6"/>
<line x1="1290.3" y1="604" x2="1309.3" y2="604" stroke="#000" stroke-width="2.1"/>
<line x1="1290.3" y1="630.1" x2="1309.3" y2="630.1" stroke="#000" stroke-width="2.1"/>
<line x1="1337.2" y1="596.5" x2="1337.2" y2="604" stroke="#000" stroke-width="1.6"/>
<line x1="1327.7" y1="596.5" x2="1346.7" y2="596.5" stroke="#000" stroke-width="2.1"/>
<line x1="1327.7" y1="604" x2="1346.7" y2="604" stroke="#000" stroke-width="2.1"/>
<circle cx="733.4" cy="587.5" r="4.4"/>
<circle cx="726.3" cy="600.8" r="4.4"/>
<circle cx="740.5" cy="605.1" r="4.4"/>
<circle cx="733.4" cy="664.1" r="4.4"/>
<circle cx="827.5" cy="522.3" r="4.4"/>
<circle cx="827.5" cy="598" r="4.4"/>
<circle cx="827.5" cy="619.8" r="4.4"/>
<circle cx="827.5" cy="682.2" r="4.4"/>
<circle cx="922.3" cy="570.5" r="4.4"/>
<circle cx="922.3" cy="616.4" r="4.4"/>
<circle cx="915" cy="639.1" r="4.4"/>
<circle cx="928.9" cy="636.4" r="4.4"/>
<circle cx="1009.8" cy="601.5" r="4.4"/>
<circle cx="1023.1" cy="599.1" r="4.4"/>
<circle cx="1016.5" cy="613.1" r="4.4"/>
<circle cx="1016.5" cy="652" r="4.4"/>
<circle cx="1111.1" cy="570.2" r="4.4"/>
<circle cx="1104.3" cy="606.5" r="4.4"/>
<circle cx="1117.6" cy="608.8" r="4.4"/>
<circle cx="1111.1" cy="667" r="4.4"/>
<circle cx="1205.6" cy="531.3" r="4.4"/>
<circle cx="1205.6" cy="634.9" r="4.4"/>
<circle cx="1190" cy="641.4" r="4.4"/>
<circle cx="1221.2" cy="640.6" r="4.4"/>
<circle cx="1299.8" cy="598.9" r="4.4"/>
<circle cx="1299.8" cy="609.4" r="4.4"/>
<circle cx="1299.8" cy="643.4" r="4.4"/>
<ellipse cx="771.1" cy="544.1" rx="3.5" ry="3.9" fill="#fff" stroke="#000" stroke-width="2.2"/>
<ellipse cx="771.1" cy="572.5" rx="3.5" ry="3.9" fill="#fff" stroke="#000" stroke-width="2.2"/>
<ellipse cx="771.1" cy="681.7" rx="3.5" ry="3.9" fill="#fff" stroke="#000" stroke-width="2.2"/>
<ellipse cx="865.2" cy="544.1" rx="3.5" ry="3.9" fill="#fff" stroke="#000" stroke-width="2.2"/>
<ellipse cx="865.2" cy="571.6" rx="3.5" ry="3.9" fill="#fff" stroke="#000" stroke-width="2.2"/>
<ellipse cx="865.2" cy="596.6" rx="3.5" ry="3.9" fill="#fff" stroke="#000" stroke-width="2.2"/>
<ellipse cx="959.9" cy="652.4" rx="3.5" ry="3.9" fill="#fff" stroke="#000" stroke-width="2.2"/>
<ellipse cx="953.2" cy="674.7" rx="3.5" ry="3.9" fill="#fff" stroke="#000" stroke-width="2.2"/>
<ellipse cx="966.5" cy="669" rx="3.5" ry="3.9" fill="#fff" stroke="#000" stroke-width="2.2"/>
<ellipse cx="1054.7" cy="513.3" rx="3.5" ry="3.9" fill="#fff" stroke="#000" stroke-width="2.2"/>
<ellipse cx="1054.7" cy="536.6" rx="3.5" ry="3.9" fill="#fff" stroke="#000" stroke-width="2.2"/>
<ellipse cx="1054.7" cy="578.2" rx="3.5" ry="3.9" fill="#fff" stroke="#000" stroke-width="2.2"/>
<ellipse cx="1148.8" cy="578.2" rx="3.5" ry="3.9" fill="#fff" stroke="#000" stroke-width="2.2"/>
<ellipse cx="1148.8" cy="587.2" rx="3.5" ry="3.9" fill="#fff" stroke="#000" stroke-width="2.2"/>
<ellipse cx="1148.8" cy="604.3" rx="3.5" ry="3.9" fill="#fff" stroke="#000" stroke-width="2.2"/>
<ellipse cx="1236.2" cy="615.9" rx="3.5" ry="3.9" fill="#fff" stroke="#000" stroke-width="2.2"/>
<ellipse cx="1249.5" cy="620.7" rx="3.5" ry="3.9" fill="#fff" stroke="#000" stroke-width="2.2"/>
<ellipse cx="1243" cy="637.7" rx="3.5" ry="3.9" fill="#fff" stroke="#000" stroke-width="2.2"/>
<ellipse cx="1330.7" cy="594.3" rx="3.5" ry="3.9" fill="#fff" stroke="#000" stroke-width="2.2"/>
<ellipse cx="1330.7" cy="603.7" rx="3.5" ry="3.9" fill="#fff" stroke="#000" stroke-width="2.2"/>
<ellipse cx="1343.7" cy="601.7" rx="3.5" ry="3.9" fill="#fff" stroke="#000" stroke-width="2.2"/>
<line x1="695.7" y1="493.5" x2="695.7" y2="742.5" stroke="#000" stroke-width="2.8"/>
<line x1="694.2" y1="741" x2="1376.7" y2="741" stroke="#000" stroke-width="3"/>
<line x1="685" y1="740.7" x2="695.7" y2="740.7" stroke="#000" stroke-width="3.6"/>
<text x="682.6" y="746.7" font-size="17.5" font-weight="bold" text-anchor="end" textLength="23.2" lengthAdjust="spacingAndGlyphs">0.0</text>
<line x1="685" y1="679.5" x2="695.7" y2="679.5" stroke="#000" stroke-width="3.6"/>
<text x="682.6" y="685.5" font-size="17.5" font-weight="bold" text-anchor="end" textLength="23.2" lengthAdjust="spacingAndGlyphs">0.5</text>
<line x1="685" y1="617.7" x2="695.7" y2="617.7" stroke="#000" stroke-width="3.6"/>
<text x="682.6" y="623.7" font-size="17.5" font-weight="bold" text-anchor="end" textLength="23.2" lengthAdjust="spacingAndGlyphs">1.0</text>
<line x1="685" y1="556.5" x2="695.7" y2="556.5" stroke="#000" stroke-width="3.6"/>
<text x="682.6" y="562.5" font-size="17.5" font-weight="bold" text-anchor="end" textLength="23.2" lengthAdjust="spacingAndGlyphs">1.5</text>
<line x1="685" y1="494.8" x2="695.7" y2="494.8" stroke="#000" stroke-width="3.6"/>
<text x="682.6" y="500.8" font-size="17.5" font-weight="bold" text-anchor="end" textLength="23.2" lengthAdjust="spacingAndGlyphs">2.0</text>
<line x1="733.3" y1="741" x2="733.3" y2="752" stroke="#000" stroke-width="3.6"/>
<line x1="771" y1="741" x2="771" y2="752" stroke="#000" stroke-width="3.6"/>
<line x1="827.6" y1="741" x2="827.6" y2="752" stroke="#000" stroke-width="3.6"/>
<line x1="865.2" y1="741" x2="865.2" y2="752" stroke="#000" stroke-width="3.6"/>
<line x1="922" y1="741" x2="922" y2="752" stroke="#000" stroke-width="3.6"/>
<line x1="960" y1="741" x2="960" y2="752" stroke="#000" stroke-width="3.6"/>
<line x1="1015.3" y1="741" x2="1015.3" y2="752" stroke="#000" stroke-width="3.6"/>
<line x1="1053.9" y1="741" x2="1053.9" y2="752" stroke="#000" stroke-width="3.6"/>
<line x1="1110.2" y1="741" x2="1110.2" y2="752" stroke="#000" stroke-width="3.6"/>
<line x1="1148" y1="741" x2="1148" y2="752" stroke="#000" stroke-width="3.6"/>
<line x1="1205" y1="741" x2="1205" y2="752" stroke="#000" stroke-width="3.6"/>
<line x1="1242.3" y1="741" x2="1242.3" y2="752" stroke="#000" stroke-width="3.6"/>
<line x1="1299.6" y1="741" x2="1299.6" y2="752" stroke="#000" stroke-width="3.6"/>
<line x1="1337.2" y1="741" x2="1337.2" y2="752" stroke="#000" stroke-width="3.6"/>
<line x1="912.4" y1="549.8" x2="958.9" y2="549.8" stroke="#b4000e" stroke-width="3.2"/>
<line x1="1007.8" y1="500.5" x2="1054.7" y2="500.5" stroke="#b4000e" stroke-width="3.2"/>
<text x="938" y="538.74" font-size="28" text-anchor="middle" fill="#f00a0a" stroke="#f00a0a" stroke-width="0.6" stroke-linejoin="round" style="font-family:'DejaVu Sans', sans-serif">&#x2217;</text>
<text x="1032.1" y="490.94" font-size="28" text-anchor="middle" fill="#f00a0a" stroke="#f00a0a" stroke-width="0.6" stroke-linejoin="round" style="font-family:'DejaVu Sans', sans-serif">&#x2217;</text>
<text x="719.2" y="800.9" font-size="30" font-style="italic" textLength="50.4" lengthAdjust="spacingAndGlyphs">Il1b</text>
<text x="822.6" y="800.9" font-size="30" font-style="italic" textLength="45.9" lengthAdjust="spacingAndGlyphs">Tnf</text>
<text x="911.3" y="800.9" font-size="30" font-style="italic" textLength="51.5" lengthAdjust="spacingAndGlyphs">Il18</text>
<text x="1004.6" y="800.9" font-size="30" font-style="italic" textLength="63.7" lengthAdjust="spacingAndGlyphs">Ccl2</text>
<text x="1095.8" y="800.9" font-size="30" font-style="italic" textLength="51.5" lengthAdjust="spacingAndGlyphs">Il10</text>
<text x="1175.9" y="800.9" font-size="30" font-style="italic" textLength="94" lengthAdjust="spacingAndGlyphs">Pdha1</text>
<text x="1276.8" y="800.9" font-size="30" font-style="italic" textLength="75.6" lengthAdjust="spacingAndGlyphs">Pdk1</text>
<text transform="translate(649.3 617.9) rotate(-90)" font-size="18" font-weight="bold" text-anchor="middle" textLength="118.6" lengthAdjust="spacingAndGlyphs">Fold Change</text>
<text x="825.5" y="467" font-size="31.5" font-weight="bold" textLength="366" lengthAdjust="spacingAndGlyphs">LV Infarct Macrophages</text>
<rect x="1296.8" y="502" width="20.9" height="10" fill="#fff" stroke="#000" stroke-width="2.6"/>
<rect x="1296.3" y="534.6" width="21.7" height="11.1" fill="url(#hatch)" stroke="#000" stroke-width="2.6"/>
<text x="1333" y="513.3" font-size="22.5" textLength="59.5" lengthAdjust="spacingAndGlyphs">Vehicle</text>
<text x="1333" y="546.8" font-size="22.5" textLength="39" lengthAdjust="spacingAndGlyphs">DCA</text>
<line x1="1594.5" y1="78.3" x2="1594.5" y2="340" stroke="#f00a0a" stroke-width="3.4" stroke-dasharray="24 9.8"/>
<line x1="1685.2" y1="77" x2="1685.2" y2="340" stroke="#b4000e" stroke-width="3.4" stroke-dasharray="24 9.8"/>
<line x1="1771" y1="77.3" x2="1771" y2="340" stroke="#b4000e" stroke-width="3.4" stroke-dasharray="24 9.8"/>
<line x1="1521.3" y1="291" x2="1521.3" y2="308.2" stroke="#222" stroke-width="1.4"/>
<line x1="1516.1" y1="291" x2="1526.5" y2="291" stroke="#222" stroke-width="1.8"/>
<line x1="1516.1" y1="308.2" x2="1526.5" y2="308.2" stroke="#222" stroke-width="1.8"/>
<line x1="1521.3" y1="296.6" x2="1521.3" y2="317.4" stroke="#222" stroke-width="1.4"/>
<line x1="1516.1" y1="296.6" x2="1526.5" y2="296.6" stroke="#222" stroke-width="1.8"/>
<line x1="1516.1" y1="317.4" x2="1526.5" y2="317.4" stroke="#222" stroke-width="1.8"/>
<line x1="1550.2" y1="296" x2="1550.2" y2="308" stroke="#222" stroke-width="1.4"/>
<line x1="1545" y1="296" x2="1555.4" y2="296" stroke="#222" stroke-width="1.8"/>
<line x1="1545" y1="308" x2="1555.4" y2="308" stroke="#222" stroke-width="1.8"/>
<line x1="1550.2" y1="302.6" x2="1550.2" y2="320" stroke="#222" stroke-width="1.4"/>
<line x1="1545" y1="302.6" x2="1555.4" y2="302.6" stroke="#222" stroke-width="1.8"/>
<line x1="1545" y1="320" x2="1555.4" y2="320" stroke="#222" stroke-width="1.8"/>
<line x1="1579.1" y1="297" x2="1579.1" y2="308.4" stroke="#222" stroke-width="1.4"/>
<line x1="1573.9" y1="297" x2="1584.3" y2="297" stroke="#222" stroke-width="1.8"/>
<line x1="1573.9" y1="308.4" x2="1584.3" y2="308.4" stroke="#222" stroke-width="1.8"/>
<line x1="1579.1" y1="305" x2="1579.1" y2="320" stroke="#222" stroke-width="1.4"/>
<line x1="1573.9" y1="305" x2="1584.3" y2="305" stroke="#222" stroke-width="1.8"/>
<line x1="1573.9" y1="320" x2="1584.3" y2="320" stroke="#222" stroke-width="1.8"/>
<line x1="1608" y1="160.6" x2="1608" y2="230.6" stroke="#222" stroke-width="1.4"/>
<line x1="1602.8" y1="160.6" x2="1613.2" y2="160.6" stroke="#222" stroke-width="1.8"/>
<line x1="1602.8" y1="230.6" x2="1613.2" y2="230.6" stroke="#222" stroke-width="1.8"/>
<line x1="1608" y1="199.2" x2="1608" y2="250" stroke="#222" stroke-width="1.4"/>
<line x1="1602.8" y1="199.2" x2="1613.2" y2="199.2" stroke="#222" stroke-width="1.8"/>
<line x1="1602.8" y1="250" x2="1613.2" y2="250" stroke="#222" stroke-width="1.8"/>
<line x1="1636.9" y1="160.3" x2="1636.9" y2="234.3" stroke="#222" stroke-width="1.4"/>
<line x1="1631.7" y1="160.3" x2="1642.1" y2="160.3" stroke="#222" stroke-width="1.8"/>
<line x1="1631.7" y1="234.3" x2="1642.1" y2="234.3" stroke="#222" stroke-width="1.8"/>
<line x1="1636.9" y1="203.6" x2="1636.9" y2="257.2" stroke="#222" stroke-width="1.4"/>
<line x1="1631.7" y1="203.6" x2="1642.1" y2="203.6" stroke="#222" stroke-width="1.8"/>
<line x1="1631.7" y1="257.2" x2="1642.1" y2="257.2" stroke="#222" stroke-width="1.8"/>
<line x1="1665.8" y1="157.6" x2="1665.8" y2="234.4" stroke="#222" stroke-width="1.4"/>
<line x1="1660.6" y1="157.6" x2="1671" y2="157.6" stroke="#222" stroke-width="1.8"/>
<line x1="1660.6" y1="234.4" x2="1671" y2="234.4" stroke="#222" stroke-width="1.8"/>
<line x1="1665.8" y1="203.1" x2="1665.8" y2="253.7" stroke="#222" stroke-width="1.4"/>
<line x1="1660.6" y1="203.1" x2="1671" y2="203.1" stroke="#222" stroke-width="1.8"/>
<line x1="1660.6" y1="253.7" x2="1671" y2="253.7" stroke="#222" stroke-width="1.8"/>
<line x1="1694.7" y1="109.4" x2="1694.7" y2="211" stroke="#222" stroke-width="1.4"/>
<line x1="1689.5" y1="109.4" x2="1699.9" y2="109.4" stroke="#222" stroke-width="1.8"/>
<line x1="1689.5" y1="211" x2="1699.9" y2="211" stroke="#222" stroke-width="1.8"/>
<line x1="1694.7" y1="176.2" x2="1694.7" y2="237.4" stroke="#222" stroke-width="1.4"/>
<line x1="1689.5" y1="176.2" x2="1699.9" y2="176.2" stroke="#222" stroke-width="1.8"/>
<line x1="1689.5" y1="237.4" x2="1699.9" y2="237.4" stroke="#222" stroke-width="1.8"/>
<line x1="1723.6" y1="111.5" x2="1723.6" y2="212.5" stroke="#222" stroke-width="1.4"/>
<line x1="1718.4" y1="111.5" x2="1728.8" y2="111.5" stroke="#222" stroke-width="1.8"/>
<line x1="1718.4" y1="212.5" x2="1728.8" y2="212.5" stroke="#222" stroke-width="1.8"/>
<line x1="1723.6" y1="182" x2="1723.6" y2="243" stroke="#222" stroke-width="1.4"/>
<line x1="1718.4" y1="182" x2="1728.8" y2="182" stroke="#222" stroke-width="1.8"/>
<line x1="1718.4" y1="243" x2="1728.8" y2="243" stroke="#222" stroke-width="1.8"/>
<line x1="1752.5" y1="112" x2="1752.5" y2="213.6" stroke="#222" stroke-width="1.4"/>
<line x1="1747.3" y1="112" x2="1757.7" y2="112" stroke="#222" stroke-width="1.8"/>
<line x1="1747.3" y1="213.6" x2="1757.7" y2="213.6" stroke="#222" stroke-width="1.8"/>
<line x1="1752.5" y1="183.1" x2="1752.5" y2="244.3" stroke="#222" stroke-width="1.4"/>
<line x1="1747.3" y1="183.1" x2="1757.7" y2="183.1" stroke="#222" stroke-width="1.8"/>
<line x1="1747.3" y1="244.3" x2="1757.7" y2="244.3" stroke="#222" stroke-width="1.8"/>
<line x1="1781.4" y1="305" x2="1781.4" y2="321.6" stroke="#222" stroke-width="1.4"/>
<line x1="1776.2" y1="305" x2="1786.6" y2="305" stroke="#222" stroke-width="1.8"/>
<line x1="1776.2" y1="321.6" x2="1786.6" y2="321.6" stroke="#222" stroke-width="1.8"/>
<line x1="1781.4" y1="317.7" x2="1781.4" y2="329.7" stroke="#222" stroke-width="1.4"/>
<line x1="1776.2" y1="317.7" x2="1786.6" y2="317.7" stroke="#222" stroke-width="1.8"/>
<line x1="1776.2" y1="329.7" x2="1786.6" y2="329.7" stroke="#222" stroke-width="1.8"/>
<line x1="1810.3" y1="316.7" x2="1810.3" y2="324.7" stroke="#222" stroke-width="1.4"/>
<line x1="1805.1" y1="316.7" x2="1815.5" y2="316.7" stroke="#222" stroke-width="1.8"/>
<line x1="1805.1" y1="324.7" x2="1815.5" y2="324.7" stroke="#222" stroke-width="1.8"/>
<line x1="1810.3" y1="326.3" x2="1810.3" y2="334.3" stroke="#222" stroke-width="1.4"/>
<line x1="1805.1" y1="326.3" x2="1815.5" y2="326.3" stroke="#222" stroke-width="1.8"/>
<line x1="1805.1" y1="334.3" x2="1815.5" y2="334.3" stroke="#222" stroke-width="1.8"/>
<line x1="1839.2" y1="321.2" x2="1839.2" y2="326.2" stroke="#222" stroke-width="1.4"/>
<line x1="1834" y1="321.2" x2="1844.4" y2="321.2" stroke="#222" stroke-width="1.8"/>
<line x1="1834" y1="326.2" x2="1844.4" y2="326.2" stroke="#222" stroke-width="1.8"/>
<line x1="1839.2" y1="329.3" x2="1839.2" y2="334.3" stroke="#222" stroke-width="1.4"/>
<line x1="1834" y1="329.3" x2="1844.4" y2="329.3" stroke="#222" stroke-width="1.8"/>
<line x1="1834" y1="334.3" x2="1844.4" y2="334.3" stroke="#222" stroke-width="1.8"/>
<polyline fill="none" stroke="#000" stroke-width="2.6" points="1521.3,307 1550.2,311.3 1579.1,312.5 1608,224.6 1636.9,230.4 1665.8,228.4 1694.7,206.8 1723.6,212.5 1752.5,213.7 1781.4,323.7 1810.3,330.3 1839.2,331.8"/>
<polyline fill="none" stroke="#000" stroke-width="2.6" points="1521.3,299.6 1550.2,302 1579.1,302.7 1608,195.6 1636.9,197.3 1665.8,196 1694.7,160.2 1723.6,162 1752.5,162.8 1781.4,313.3 1810.3,320.7 1839.2,323.7"/>
<circle cx="1521.3" cy="307" r="5.3"/>
<circle cx="1550.2" cy="311.3" r="5.3"/>
<circle cx="1579.1" cy="312.5" r="5.3"/>
<circle cx="1608" cy="224.6" r="5.3"/>
<circle cx="1636.9" cy="230.4" r="5.3"/>
<circle cx="1665.8" cy="228.4" r="5.3"/>
<circle cx="1694.7" cy="206.8" r="5.3"/>
<circle cx="1723.6" cy="212.5" r="5.3"/>
<circle cx="1752.5" cy="213.7" r="5.3"/>
<circle cx="1781.4" cy="323.7" r="5.3"/>
<circle cx="1810.3" cy="330.3" r="5.3"/>
<circle cx="1839.2" cy="331.8" r="5.3"/>
<rect x="1517.05" y="295.35" width="8.5" height="8.5" fill="#fff" stroke="#000" stroke-width="2.5"/>
<rect x="1545.95" y="297.75" width="8.5" height="8.5" fill="#fff" stroke="#000" stroke-width="2.5"/>
<rect x="1574.85" y="298.45" width="8.5" height="8.5" fill="#fff" stroke="#000" stroke-width="2.5"/>
<rect x="1603.75" y="191.35" width="8.5" height="8.5" fill="#fff" stroke="#000" stroke-width="2.5"/>
<rect x="1632.65" y="193.05" width="8.5" height="8.5" fill="#fff" stroke="#000" stroke-width="2.5"/>
<rect x="1661.55" y="191.75" width="8.5" height="8.5" fill="#fff" stroke="#000" stroke-width="2.5"/>
<rect x="1690.45" y="155.95" width="8.5" height="8.5" fill="#fff" stroke="#000" stroke-width="2.5"/>
<rect x="1719.35" y="157.75" width="8.5" height="8.5" fill="#fff" stroke="#000" stroke-width="2.5"/>
<rect x="1748.25" y="158.55" width="8.5" height="8.5" fill="#fff" stroke="#000" stroke-width="2.5"/>
<rect x="1777.15" y="309.05" width="8.5" height="8.5" fill="#fff" stroke="#000" stroke-width="2.5"/>
<rect x="1806.05" y="316.45" width="8.5" height="8.5" fill="#fff" stroke="#000" stroke-width="2.5"/>
<rect x="1834.95" y="319.45" width="8.5" height="8.5" fill="#fff" stroke="#000" stroke-width="2.5"/>
<line x1="1502.7" y1="80" x2="1502.7" y2="341" stroke="#000" stroke-width="2.6"/>
<line x1="1501.4" y1="339.8" x2="1860.7" y2="339.8" stroke="#000" stroke-width="2.6"/>
<line x1="1492.5" y1="80.8" x2="1502.7" y2="80.8" stroke="#000" stroke-width="2.2"/>
<text x="1489" y="87.6" font-size="19.5" font-weight="bold" text-anchor="end" textLength="20.8" lengthAdjust="spacingAndGlyphs">20</text>
<line x1="1492.5" y1="146" x2="1502.7" y2="146" stroke="#000" stroke-width="2.2"/>
<text x="1489" y="152.8" font-size="19.5" font-weight="bold" text-anchor="end" textLength="20.8" lengthAdjust="spacingAndGlyphs">15</text>
<line x1="1492.5" y1="210.6" x2="1502.7" y2="210.6" stroke="#000" stroke-width="2.2"/>
<text x="1489" y="217.4" font-size="19.5" font-weight="bold" text-anchor="end" textLength="20.8" lengthAdjust="spacingAndGlyphs">10</text>
<line x1="1492.5" y1="274.7" x2="1502.7" y2="274.7" stroke="#000" stroke-width="2.2"/>
<text x="1489" y="281.5" font-size="19.5" font-weight="bold" text-anchor="end" textLength="10.4" lengthAdjust="spacingAndGlyphs">5</text>
<line x1="1492.5" y1="339.8" x2="1502.7" y2="339.8" stroke="#000" stroke-width="2.2"/>
<text x="1489" y="346.6" font-size="19.5" font-weight="bold" text-anchor="end" textLength="10.4" lengthAdjust="spacingAndGlyphs">0</text>
<line x1="1521.3" y1="339.8" x2="1521.3" y2="350.7" stroke="#000" stroke-width="2.6"/>
<text x="1521.3" y="370.3" font-size="19.5" font-weight="bold" text-anchor="middle" textLength="10.4" lengthAdjust="spacingAndGlyphs">1</text>
<line x1="1550.2" y1="339.8" x2="1550.2" y2="350.7" stroke="#000" stroke-width="2.6"/>
<text x="1550.2" y="370.3" font-size="19.5" font-weight="bold" text-anchor="middle" textLength="10.4" lengthAdjust="spacingAndGlyphs">2</text>
<line x1="1579.1" y1="339.8" x2="1579.1" y2="350.7" stroke="#000" stroke-width="2.6"/>
<text x="1579.1" y="370.3" font-size="19.5" font-weight="bold" text-anchor="middle" textLength="10.4" lengthAdjust="spacingAndGlyphs">3</text>
<line x1="1608" y1="339.8" x2="1608" y2="350.7" stroke="#000" stroke-width="2.6"/>
<text x="1608" y="370.3" font-size="19.5" font-weight="bold" text-anchor="middle" textLength="10.4" lengthAdjust="spacingAndGlyphs">4</text>
<line x1="1636.9" y1="339.8" x2="1636.9" y2="350.7" stroke="#000" stroke-width="2.6"/>
<text x="1636.9" y="370.3" font-size="19.5" font-weight="bold" text-anchor="middle" textLength="10.4" lengthAdjust="spacingAndGlyphs">5</text>
<line x1="1665.8" y1="339.8" x2="1665.8" y2="350.7" stroke="#000" stroke-width="2.6"/>
<text x="1665.8" y="370.3" font-size="19.5" font-weight="bold" text-anchor="middle" textLength="10.4" lengthAdjust="spacingAndGlyphs">6</text>
<line x1="1694.7" y1="339.8" x2="1694.7" y2="350.7" stroke="#000" stroke-width="2.6"/>
<text x="1694.7" y="370.3" font-size="19.5" font-weight="bold" text-anchor="middle" textLength="10.4" lengthAdjust="spacingAndGlyphs">7</text>
<line x1="1723.6" y1="339.8" x2="1723.6" y2="350.7" stroke="#000" stroke-width="2.6"/>
<text x="1723.6" y="370.3" font-size="19.5" font-weight="bold" text-anchor="middle" textLength="10.4" lengthAdjust="spacingAndGlyphs">8</text>
<line x1="1752.5" y1="339.8" x2="1752.5" y2="350.7" stroke="#000" stroke-width="2.6"/>
<text x="1752.5" y="370.3" font-size="19.5" font-weight="bold" text-anchor="middle" textLength="10.4" lengthAdjust="spacingAndGlyphs">9</text>
<line x1="1781.4" y1="339.8" x2="1781.4" y2="350.7" stroke="#000" stroke-width="2.6"/>
<text x="1781.4" y="370.3" font-size="19.5" font-weight="bold" text-anchor="middle" textLength="20.8" lengthAdjust="spacingAndGlyphs">10</text>
<line x1="1810.3" y1="339.8" x2="1810.3" y2="350.7" stroke="#000" stroke-width="2.6"/>
<text x="1810.3" y="370.3" font-size="19.5" font-weight="bold" text-anchor="middle" textLength="20.8" lengthAdjust="spacingAndGlyphs">11</text>
<line x1="1839.2" y1="339.8" x2="1839.2" y2="350.7" stroke="#000" stroke-width="2.6"/>
<text x="1839.2" y="370.3" font-size="19.5" font-weight="bold" text-anchor="middle" textLength="20.8" lengthAdjust="spacingAndGlyphs">12</text>
<text x="1648.8" y="46.2" font-size="23.5" font-weight="bold" textLength="63.5" lengthAdjust="spacingAndGlyphs">ECAR</text>
<text transform="translate(1458.5 209) rotate(-90)" font-size="17.5" font-weight="bold" text-anchor="middle" textLength="87" lengthAdjust="spacingAndGlyphs">mPh/min</text>
<line x1="1824" y1="98.9" x2="1849" y2="98.9" stroke="#000" stroke-width="2.4"/>
<circle cx="1836.4" cy="98.9" r="6"/>
<line x1="1824" y1="133.5" x2="1849" y2="133.5" stroke="#000" stroke-width="2.4"/>
<rect x="1831.65" y="128.95" width="9.5" height="9.5" fill="#fff" stroke="#000" stroke-width="2.5"/>
<text x="1862.5" y="105" font-size="21" textLength="68" lengthAdjust="spacingAndGlyphs">Vehicle</text>
<text x="1863.5" y="139.7" font-size="20.5" textLength="41.5" lengthAdjust="spacingAndGlyphs">DCA</text>
<text x="1514" y="207" font-size="22.5" fill="#d8202a" textLength="52.5" lengthAdjust="spacingAndGlyphs">basal</text>
<text x="1599.5" y="113.3" font-size="22.5" fill="#d8202a" textLength="77.5" lengthAdjust="spacingAndGlyphs">glucose</text>
<text x="1700" y="76.5" font-size="22.5" fill="#d8202a" textLength="57.5" lengthAdjust="spacingAndGlyphs">Oligo-</text>
<text x="1699" y="103.4" font-size="22.5" fill="#d8202a" textLength="59.5" lengthAdjust="spacingAndGlyphs">mycin</text>
<text x="1790" y="213.5" font-size="23" fill="#d8202a" textLength="85" lengthAdjust="spacingAndGlyphs">2-deoxy-</text>
<text x="1790" y="240.2" font-size="23" fill="#d8202a" textLength="77.5" lengthAdjust="spacingAndGlyphs">glucose</text>
<line x1="1594.5" y1="490.4" x2="1594.5" y2="749" stroke="#f00a0a" stroke-width="3.4" stroke-dasharray="24 9.8"/>
<line x1="1686.3" y1="490" x2="1686.3" y2="749" stroke="#f00a0a" stroke-width="3.4" stroke-dasharray="24 9.8"/>
<line x1="1771.3" y1="490" x2="1771.3" y2="749" stroke="#b4000e" stroke-width="3.4" stroke-dasharray="24 9.8"/>
<line x1="1526.8" y1="584.9" x2="1526.8" y2="641.1" stroke="#222" stroke-width="1.4"/>
<line x1="1521.6" y1="584.9" x2="1532" y2="584.9" stroke="#222" stroke-width="1.8"/>
<line x1="1521.6" y1="641.1" x2="1532" y2="641.1" stroke="#222" stroke-width="1.8"/>
<line x1="1526.8" y1="593.3" x2="1526.8" y2="620.5" stroke="#222" stroke-width="1.4"/>
<line x1="1521.6" y1="593.3" x2="1532" y2="593.3" stroke="#222" stroke-width="1.8"/>
<line x1="1521.6" y1="620.5" x2="1532" y2="620.5" stroke="#222" stroke-width="1.8"/>
<line x1="1555.1" y1="588.2" x2="1555.1" y2="646.2" stroke="#222" stroke-width="1.4"/>
<line x1="1549.9" y1="588.2" x2="1560.3" y2="588.2" stroke="#222" stroke-width="1.8"/>
<line x1="1549.9" y1="646.2" x2="1560.3" y2="646.2" stroke="#222" stroke-width="1.8"/>
<line x1="1555.1" y1="599" x2="1555.1" y2="625.6" stroke="#222" stroke-width="1.4"/>
<line x1="1549.9" y1="599" x2="1560.3" y2="599" stroke="#222" stroke-width="1.8"/>
<line x1="1549.9" y1="625.6" x2="1560.3" y2="625.6" stroke="#222" stroke-width="1.8"/>
<line x1="1583.4" y1="593" x2="1583.4" y2="647" stroke="#222" stroke-width="1.4"/>
<line x1="1578.2" y1="593" x2="1588.6" y2="593" stroke="#222" stroke-width="1.8"/>
<line x1="1578.2" y1="647" x2="1588.6" y2="647" stroke="#222" stroke-width="1.8"/>
<line x1="1583.4" y1="598.3" x2="1583.4" y2="626.3" stroke="#222" stroke-width="1.4"/>
<line x1="1578.2" y1="598.3" x2="1588.6" y2="598.3" stroke="#222" stroke-width="1.8"/>
<line x1="1578.2" y1="626.3" x2="1588.6" y2="626.3" stroke="#222" stroke-width="1.8"/>
<line x1="1611.7" y1="679.6" x2="1611.7" y2="717.6" stroke="#222" stroke-width="1.4"/>
<line x1="1606.5" y1="679.6" x2="1616.9" y2="679.6" stroke="#222" stroke-width="1.8"/>
<line x1="1606.5" y1="717.6" x2="1616.9" y2="717.6" stroke="#222" stroke-width="1.8"/>
<line x1="1611.7" y1="679" x2="1611.7" y2="695" stroke="#222" stroke-width="1.4"/>
<line x1="1606.5" y1="679" x2="1616.9" y2="679" stroke="#222" stroke-width="1.8"/>
<line x1="1606.5" y1="695" x2="1616.9" y2="695" stroke="#222" stroke-width="1.8"/>
<line x1="1640" y1="675.7" x2="1640" y2="714.5" stroke="#222" stroke-width="1.4"/>
<line x1="1634.8" y1="675.7" x2="1645.2" y2="675.7" stroke="#222" stroke-width="1.8"/>
<line x1="1634.8" y1="714.5" x2="1645.2" y2="714.5" stroke="#222" stroke-width="1.8"/>
<line x1="1640" y1="676.3" x2="1640" y2="694.3" stroke="#222" stroke-width="1.4"/>
<line x1="1634.8" y1="676.3" x2="1645.2" y2="676.3" stroke="#222" stroke-width="1.8"/>
<line x1="1634.8" y1="694.3" x2="1645.2" y2="694.3" stroke="#222" stroke-width="1.8"/>
<line x1="1668.3" y1="671" x2="1668.3" y2="709" stroke="#222" stroke-width="1.4"/>
<line x1="1663.1" y1="671" x2="1673.5" y2="671" stroke="#222" stroke-width="1.8"/>
<line x1="1663.1" y1="709" x2="1673.5" y2="709" stroke="#222" stroke-width="1.8"/>
<line x1="1668.3" y1="677.3" x2="1668.3" y2="694.3" stroke="#222" stroke-width="1.4"/>
<line x1="1663.1" y1="677.3" x2="1673.5" y2="677.3" stroke="#222" stroke-width="1.8"/>
<line x1="1663.1" y1="694.3" x2="1673.5" y2="694.3" stroke="#222" stroke-width="1.8"/>
<line x1="1696.6" y1="561.2" x2="1696.6" y2="627.2" stroke="#222" stroke-width="1.4"/>
<line x1="1691.4" y1="561.2" x2="1701.8" y2="561.2" stroke="#222" stroke-width="1.8"/>
<line x1="1691.4" y1="627.2" x2="1701.8" y2="627.2" stroke="#222" stroke-width="1.8"/>
<line x1="1696.6" y1="560.1" x2="1696.6" y2="613.1" stroke="#222" stroke-width="1.4"/>
<line x1="1691.4" y1="560.1" x2="1701.8" y2="560.1" stroke="#222" stroke-width="1.8"/>
<line x1="1691.4" y1="613.1" x2="1701.8" y2="613.1" stroke="#222" stroke-width="1.8"/>
<line x1="1724.9" y1="570.9" x2="1724.9" y2="634.9" stroke="#222" stroke-width="1.4"/>
<line x1="1719.7" y1="570.9" x2="1730.1" y2="570.9" stroke="#222" stroke-width="1.8"/>
<line x1="1719.7" y1="634.9" x2="1730.1" y2="634.9" stroke="#222" stroke-width="1.8"/>
<line x1="1724.9" y1="575.8" x2="1724.9" y2="620.8" stroke="#222" stroke-width="1.4"/>
<line x1="1719.7" y1="575.8" x2="1730.1" y2="575.8" stroke="#222" stroke-width="1.8"/>
<line x1="1719.7" y1="620.8" x2="1730.1" y2="620.8" stroke="#222" stroke-width="1.8"/>
<line x1="1753.2" y1="563.2" x2="1753.2" y2="624.2" stroke="#222" stroke-width="1.4"/>
<line x1="1748" y1="563.2" x2="1758.4" y2="563.2" stroke="#222" stroke-width="1.8"/>
<line x1="1748" y1="624.2" x2="1758.4" y2="624.2" stroke="#222" stroke-width="1.8"/>
<line x1="1753.2" y1="567" x2="1753.2" y2="615" stroke="#222" stroke-width="1.4"/>
<line x1="1748" y1="567" x2="1758.4" y2="567" stroke="#222" stroke-width="1.8"/>
<line x1="1748" y1="615" x2="1758.4" y2="615" stroke="#222" stroke-width="1.8"/>
<line x1="1781.5" y1="698.6" x2="1781.5" y2="725.6" stroke="#222" stroke-width="1.4"/>
<line x1="1776.3" y1="698.6" x2="1786.7" y2="698.6" stroke="#222" stroke-width="1.8"/>
<line x1="1776.3" y1="725.6" x2="1786.7" y2="725.6" stroke="#222" stroke-width="1.8"/>
<line x1="1781.5" y1="700.4" x2="1781.5" y2="718.4" stroke="#222" stroke-width="1.4"/>
<line x1="1776.3" y1="700.4" x2="1786.7" y2="700.4" stroke="#222" stroke-width="1.8"/>
<line x1="1776.3" y1="718.4" x2="1786.7" y2="718.4" stroke="#222" stroke-width="1.8"/>
<line x1="1809.8" y1="698" x2="1809.8" y2="728" stroke="#222" stroke-width="1.4"/>
<line x1="1804.6" y1="698" x2="1815" y2="698" stroke="#222" stroke-width="1.8"/>
<line x1="1804.6" y1="728" x2="1815" y2="728" stroke="#222" stroke-width="1.8"/>
<line x1="1809.8" y1="698.7" x2="1809.8" y2="726.7" stroke="#222" stroke-width="1.4"/>
<line x1="1804.6" y1="698.7" x2="1815" y2="698.7" stroke="#222" stroke-width="1.8"/>
<line x1="1804.6" y1="726.7" x2="1815" y2="726.7" stroke="#222" stroke-width="1.8"/>
<line x1="1838.1" y1="700.3" x2="1838.1" y2="727.7" stroke="#222" stroke-width="1.4"/>
<line x1="1832.9" y1="700.3" x2="1843.3" y2="700.3" stroke="#222" stroke-width="1.8"/>
<line x1="1832.9" y1="727.7" x2="1843.3" y2="727.7" stroke="#222" stroke-width="1.8"/>
<line x1="1838.1" y1="701" x2="1838.1" y2="727" stroke="#222" stroke-width="1.4"/>
<line x1="1832.9" y1="701" x2="1843.3" y2="701" stroke="#222" stroke-width="1.8"/>
<line x1="1832.9" y1="727" x2="1843.3" y2="727" stroke="#222" stroke-width="1.8"/>
<polyline fill="none" stroke="#000" stroke-width="2.6" points="1526.8,613 1555.1,617.2 1583.4,620 1611.7,698.6 1640,695.1 1668.3,690 1696.6,594.2 1724.9,602.9 1753.2,593.7 1781.5,712.1 1809.8,713 1838.1,714"/>
<polyline fill="none" stroke="#000" stroke-width="2.6" points="1526.8,606.9 1555.1,612.3 1583.4,612.3 1611.7,687 1640,685.3 1668.3,685.8 1696.6,586.6 1724.9,598.3 1753.2,591 1781.5,709.4 1809.8,712.7 1838.1,714"/>
<rect x="1522.8" y="609" width="8" height="8" fill="#fff" stroke="#000" stroke-width="2.5"/>
<rect x="1551.1" y="613.2" width="8" height="8" fill="#fff" stroke="#000" stroke-width="2.5"/>
<rect x="1579.4" y="616" width="8" height="8" fill="#fff" stroke="#000" stroke-width="2.5"/>
<rect x="1607.7" y="694.6" width="8" height="8" fill="#fff" stroke="#000" stroke-width="2.5"/>
<rect x="1636" y="691.1" width="8" height="8" fill="#fff" stroke="#000" stroke-width="2.5"/>
<rect x="1664.3" y="686" width="8" height="8" fill="#fff" stroke="#000" stroke-width="2.5"/>
<rect x="1692.6" y="590.2" width="8" height="8" fill="#fff" stroke="#000" stroke-width="2.5"/>
<rect x="1720.9" y="598.9" width="8" height="8" fill="#fff" stroke="#000" stroke-width="2.5"/>
<rect x="1749.2" y="589.7" width="8" height="8" fill="#fff" stroke="#000" stroke-width="2.5"/>
<rect x="1777.5" y="708.1" width="8" height="8" fill="#fff" stroke="#000" stroke-width="2.5"/>
<rect x="1805.8" y="709" width="8" height="8" fill="#fff" stroke="#000" stroke-width="2.5"/>
<rect x="1834.1" y="710" width="8" height="8" fill="#fff" stroke="#000" stroke-width="2.5"/>
<circle cx="1526.8" cy="606.9" r="5"/>
<circle cx="1555.1" cy="612.3" r="5"/>
<circle cx="1583.4" cy="612.3" r="5"/>
<circle cx="1611.7" cy="687" r="5"/>
<circle cx="1640" cy="685.3" r="5"/>
<circle cx="1668.3" cy="685.8" r="5"/>
<circle cx="1696.6" cy="586.6" r="5"/>
<circle cx="1724.9" cy="598.3" r="5"/>
<circle cx="1753.2" cy="591" r="5"/>
<circle cx="1781.5" cy="709.4" r="5"/>
<circle cx="1809.8" cy="712.7" r="5"/>
<circle cx="1838.1" cy="714" r="5"/>
<line x1="1509.3" y1="496" x2="1509.3" y2="750.2" stroke="#000" stroke-width="2.6"/>
<line x1="1508" y1="749" x2="1858.5" y2="749" stroke="#000" stroke-width="2.6"/>
<line x1="1500.5" y1="497.2" x2="1509.3" y2="497.2" stroke="#000" stroke-width="2.2"/>
<text x="1497" y="503.2" font-size="16.5" font-weight="bold" text-anchor="end" textLength="19.8" lengthAdjust="spacingAndGlyphs">40</text>
<line x1="1500.5" y1="559.9" x2="1509.3" y2="559.9" stroke="#000" stroke-width="2.2"/>
<text x="1497" y="565.9" font-size="16.5" font-weight="bold" text-anchor="end" textLength="19.8" lengthAdjust="spacingAndGlyphs">30</text>
<line x1="1500.5" y1="623.3" x2="1509.3" y2="623.3" stroke="#000" stroke-width="2.2"/>
<text x="1497" y="629.3" font-size="16.5" font-weight="bold" text-anchor="end" textLength="19.8" lengthAdjust="spacingAndGlyphs">20</text>
<line x1="1500.5" y1="686.6" x2="1509.3" y2="686.6" stroke="#000" stroke-width="2.2"/>
<text x="1497" y="692.6" font-size="16.5" font-weight="bold" text-anchor="end" textLength="19.8" lengthAdjust="spacingAndGlyphs">10</text>
<line x1="1500.5" y1="749" x2="1509.3" y2="749" stroke="#000" stroke-width="2.2"/>
<text x="1497" y="755" font-size="16.5" font-weight="bold" text-anchor="end" textLength="9.9" lengthAdjust="spacingAndGlyphs">0</text>
<line x1="1526.8" y1="749" x2="1526.8" y2="759.6" stroke="#000" stroke-width="2.6"/>
<text x="1526.8" y="779.4" font-size="17.5" font-weight="bold" text-anchor="middle" textLength="8.9" lengthAdjust="spacingAndGlyphs">1</text>
<line x1="1555.1" y1="749" x2="1555.1" y2="759.6" stroke="#000" stroke-width="2.6"/>
<text x="1555.1" y="779.4" font-size="17.5" font-weight="bold" text-anchor="middle" textLength="8.9" lengthAdjust="spacingAndGlyphs">2</text>
<line x1="1583.4" y1="749" x2="1583.4" y2="759.6" stroke="#000" stroke-width="2.6"/>
<text x="1583.4" y="779.4" font-size="17.5" font-weight="bold" text-anchor="middle" textLength="8.9" lengthAdjust="spacingAndGlyphs">3</text>
<line x1="1611.7" y1="749" x2="1611.7" y2="759.6" stroke="#000" stroke-width="2.6"/>
<text x="1611.7" y="779.4" font-size="17.5" font-weight="bold" text-anchor="middle" textLength="8.9" lengthAdjust="spacingAndGlyphs">4</text>
<line x1="1640" y1="749" x2="1640" y2="759.6" stroke="#000" stroke-width="2.6"/>
<text x="1640" y="779.4" font-size="17.5" font-weight="bold" text-anchor="middle" textLength="8.9" lengthAdjust="spacingAndGlyphs">5</text>
<line x1="1668.3" y1="749" x2="1668.3" y2="759.6" stroke="#000" stroke-width="2.6"/>
<text x="1668.3" y="779.4" font-size="17.5" font-weight="bold" text-anchor="middle" textLength="8.9" lengthAdjust="spacingAndGlyphs">6</text>
<line x1="1696.6" y1="749" x2="1696.6" y2="759.6" stroke="#000" stroke-width="2.6"/>
<text x="1696.6" y="779.4" font-size="17.5" font-weight="bold" text-anchor="middle" textLength="8.9" lengthAdjust="spacingAndGlyphs">7</text>
<line x1="1724.9" y1="749" x2="1724.9" y2="759.6" stroke="#000" stroke-width="2.6"/>
<text x="1724.9" y="779.4" font-size="17.5" font-weight="bold" text-anchor="middle" textLength="8.9" lengthAdjust="spacingAndGlyphs">8</text>
<line x1="1753.2" y1="749" x2="1753.2" y2="759.6" stroke="#000" stroke-width="2.6"/>
<text x="1753.2" y="779.4" font-size="17.5" font-weight="bold" text-anchor="middle" textLength="8.9" lengthAdjust="spacingAndGlyphs">9</text>
<line x1="1781.5" y1="749" x2="1781.5" y2="759.6" stroke="#000" stroke-width="2.6"/>
<text x="1781.5" y="779.4" font-size="17.5" font-weight="bold" text-anchor="middle" textLength="17.8" lengthAdjust="spacingAndGlyphs">10</text>
<line x1="1809.8" y1="749" x2="1809.8" y2="759.6" stroke="#000" stroke-width="2.6"/>
<text x="1809.8" y="779.4" font-size="17.5" font-weight="bold" text-anchor="middle" textLength="17.8" lengthAdjust="spacingAndGlyphs">11</text>
<line x1="1838.1" y1="749" x2="1838.1" y2="759.6" stroke="#000" stroke-width="2.6"/>
<text x="1838.1" y="779.4" font-size="17.5" font-weight="bold" text-anchor="middle" textLength="17.8" lengthAdjust="spacingAndGlyphs">12</text>
<text x="1657.3" y="463.4" font-size="25" font-weight="bold" textLength="50.5" lengthAdjust="spacingAndGlyphs">OCR</text>
<text transform="translate(1464 622.6) rotate(-90)" font-size="17.5" font-weight="bold" text-anchor="middle" textLength="120.6" lengthAdjust="spacingAndGlyphs">pMol O2/min</text>
<line x1="1814.3" y1="514.2" x2="1838.8" y2="514.2" stroke="#000" stroke-width="2.4"/>
<circle cx="1826.6" cy="514.2" r="5.7"/>
<line x1="1814.3" y1="548.3" x2="1838.8" y2="548.3" stroke="#000" stroke-width="2.4"/>
<rect x="1822.45" y="544.25" width="8.5" height="8.5" fill="#fff" stroke="#000" stroke-width="2.5"/>
<text x="1852.5" y="520.3" font-size="21" textLength="61" lengthAdjust="spacingAndGlyphs">Vehicle</text>
<text x="1853.5" y="554.3" font-size="20.5" textLength="39.3" lengthAdjust="spacingAndGlyphs">DCA</text>
<text x="1523.5" y="552.5" font-size="22.8" fill="#d8202a" textLength="54.5" lengthAdjust="spacingAndGlyphs">basal</text>
<text x="1602.3" y="561.4" font-size="22.5" fill="#d8202a" textLength="58.8" lengthAdjust="spacingAndGlyphs">Oligo-</text>
<text x="1601.8" y="589" font-size="22.5" fill="#d8202a" textLength="59.3" lengthAdjust="spacingAndGlyphs">mycin</text>
<text x="1695.8" y="520.5" font-size="23.8" fill="#d8202a" textLength="62" lengthAdjust="spacingAndGlyphs">FCCP</text>
<text x="1789" y="626.5" font-size="22.5" fill="#d8202a" textLength="102" lengthAdjust="spacingAndGlyphs">Rotenone/</text>
<text x="1789" y="653.9" font-size="22.5" fill="#d8202a" textLength="115" lengthAdjust="spacingAndGlyphs">antimycin A</text>
</svg></body></html>
